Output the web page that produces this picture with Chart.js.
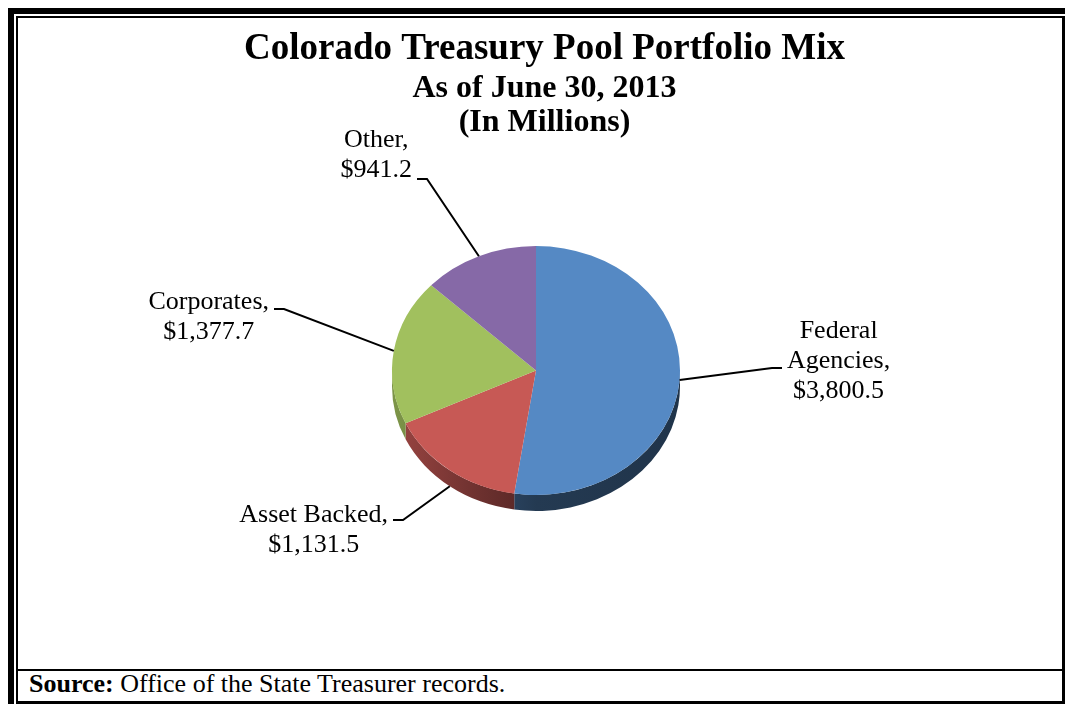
<!DOCTYPE html>
<html>
<head>
<meta charset="utf-8">
<script src="https://cdn.jsdelivr.net/npm/chart.js@4.4.1/dist/chart.umd.min.js"></script>
<style>
  body { margin: 0; background: #fff; }
  #wrap { position: relative; width: 1067px; height: 707px; overflow: hidden; }
  .outer { position: absolute; left: 8px; top: 8px; width: 1057px; height: 696px; border-top: 6px solid #000; border-left: 6px solid #000; box-sizing: border-box; }
  .inner { position: absolute; left: 16px; top: 16px; width: 1049px; height: 688px; border: 2px solid #000; border-right-width: 3px; border-bottom-width: 3px; box-sizing: border-box; }
  .divider { position: absolute; left: 16px; top: 669px; width: 1049px; height: 2px; background: #000; }
  .source { position: absolute; left: 29px; top: 669px; font: 26px "Liberation Serif", "Times New Roman", serif; line-height: 30px; color: #000; white-space: nowrap; }
  #pie { position: absolute; left: 0; top: 0; }
</style>
</head>
<body>
<div id="wrap">
  <div class="outer"></div>
  <div class="inner"></div>
  <div class="divider"></div>
  <div class="source"><b>Source:</b> Office of the State Treasurer records.</div>
  <canvas id="pie" width="1067" height="707"></canvas>
</div>
<script>
// data (in millions)
var categories = ["Federal Agencies", "Asset Backed", "Corporates", "Other"];
var labelLines = [["Federal", "Agencies,"], ["Asset Backed,"], ["Corporates,"], ["Other,"]];
var amounts = [3800.5, 1131.5, 1377.7, 941.2];

// styles
var topColors = ["#5589c4", "#c75955", "#a1c05e", "#8669a7"];
var serif = '"Liberation Serif", "Times New Roman", serif';

// 3d look: ellipse squash and side depth
var squash = 124.5 / 144;
var depth = 16;
var shiftX = -8.5;

// where each label's leader ends, relative to the pie centre
var labelSpots = [
  { dx: 246, dy: -2.5, side: "right", base: -30 },
  { dx: -143, dy: 149.5, side: "left", base: 2 },
  { dx: -262, dy: -61.5, side: "left", base: 0 },
  { dx: -119, dy: -191.5, side: "left", base: -32 }
];

function money(v) {
  return "$" + v.toLocaleString("en-US", { minimumFractionDigits: 1, maximumFractionDigits: 1 });
}

function shade(hex, f) {
  var r = parseInt(hex.substr(1, 2), 16), g = parseInt(hex.substr(3, 2), 16), b = parseInt(hex.substr(5, 2), 16);
  return "rgb(" + Math.round(r * f) + "," + Math.round(g * f) + "," + Math.round(b * f) + ")";
}

var pie3d = {
  id: "pie3d",
  beforeDatasetsDraw: function (chart) {
    var ctx = chart.ctx;
    var arcs = chart.getDatasetMeta(0).data;
    var cx = arcs[0].x, cy = arcs[0].y;
    ctx.save();
    ctx.translate(cx + shiftX, cy);
    ctx.scale(1, squash);
    ctx.translate(-cx, -cy);
    var d = depth / squash;
    arcs.forEach(function (arc, i) {
      var p = arc.getProps(["startAngle", "endAngle", "outerRadius"], true);
      var a0 = Math.max(p.startAngle, 0), a1 = Math.min(p.endAngle, Math.PI);
      if (a1 <= a0) return;
      var r = p.outerRadius;
      var g = ctx.createLinearGradient(cx - r, 0, cx + r, 0);
      g.addColorStop(0, shade(topColors[i], 0.78));
      g.addColorStop(0.3, shade(topColors[i], 0.55));
      g.addColorStop(0.5, shade(topColors[i], 0.42));
      g.addColorStop(1, shade(topColors[i], 0.38));
      ctx.beginPath();
      ctx.arc(cx, cy, r, a0, a1);
      ctx.lineTo(cx + r * Math.cos(a1), cy + d + r * Math.sin(a1));
      ctx.arc(cx, cy + d, r, a1, a0, true);
      ctx.closePath();
      ctx.fillStyle = g;
      ctx.fill();
    });
  },
  afterDatasetsDraw: function (chart) {
    var ctx = chart.ctx;
    ctx.restore();
    var arcs = chart.getDatasetMeta(0).data;
    var sx = arcs[0].x + shiftX, cy = arcs[0].y;
    ctx.save();
    ctx.font = "26px " + serif;
    ctx.fillStyle = "#000";
    ctx.strokeStyle = "#000";
    ctx.lineWidth = 2;
    arcs.forEach(function (arc, i) {
      var p = arc.getProps(["startAngle", "endAngle", "outerRadius"], true);
      var mid = (p.startAngle + p.endAngle) / 2;
      var ex = sx + p.outerRadius * Math.cos(mid);
      var ey = cy + p.outerRadius * Math.sin(mid) * squash + (Math.sin(mid) > 0.5 ? depth : 0);
      var spot = labelSpots[i];
      var tx = sx + spot.dx, ty = cy + spot.dy;
      var elbowX = spot.side === "right" ? tx - 10 : tx + 10;
      ctx.beginPath();
      ctx.moveTo(ex, ey);
      ctx.lineTo(elbowX, ty);
      ctx.lineTo(tx, ty);
      ctx.stroke();

      var lines = labelLines[i].concat([money(amounts[i])]);
      var w = 0;
      lines.forEach(function (t) { w = Math.max(w, ctx.measureText(t).width); });
      var bx = spot.side === "right" ? tx + 5 + w / 2 : tx - 5 - w / 2;
      ctx.textAlign = "center";
      ctx.textBaseline = "alphabetic";
      lines.forEach(function (t, k) {
        ctx.fillText(t, bx, ty + spot.base + k * 30);
      });
    });
    ctx.restore();
  }
};

new Chart(document.getElementById("pie"), {
  type: "pie",
  data: {
    labels: categories,
    datasets: [{
      data: amounts,
      backgroundColor: topColors,
      borderWidth: 0,
      radius: 144,
      clip: false
    }]
  },
  options: {
    responsive: false,
    animation: false,
    events: [],
    layout: { padding: { left: 22, right: 0, top: 0, bottom: 109.6 } },
    plugins: {
      legend: { display: false },
      tooltip: { enabled: false },
      title: {
        display: true,
        text: "Colorado Treasury Pool Portfolio Mix",
        color: "#000",
        font: { family: serif, size: 37, weight: "bold", lineHeight: 1.2 },
        padding: { top: 27, bottom: 1 }
      },
      subtitle: {
        display: true,
        text: ["As of June 30, 2013", "(In Millions)"],
        color: "#000",
        font: { family: serif, size: 32, weight: "bold", lineHeight: 1.05 },
        padding: { top: 0, bottom: 4 }
      }
    }
  },
  plugins: [pie3d]
});
</script>
</body>
</html>
